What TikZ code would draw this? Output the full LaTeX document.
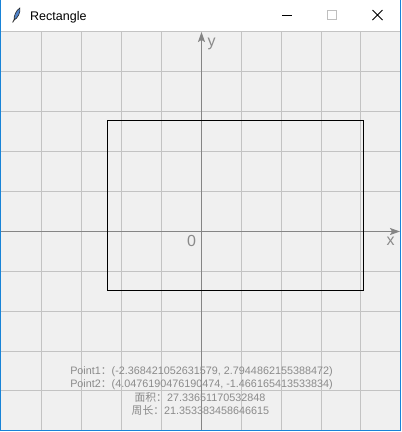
\documentclass[tikz,border=0pt]{standalone}
\usepackage{fontspec}
\setmainfont{Liberation Sans}
\newfontfamily\cjk{Noto Sans CJK SC}
\usetikzlibrary{arrows.meta}
\definecolor{bg}{HTML}{F0F0F0}
\definecolor{gridc}{HTML}{C3C3C3}
\definecolor{axisc}{HTML}{858585}
\definecolor{txtc}{HTML}{8A8A8A}
\definecolor{winblue}{HTML}{1883D7}
\definecolor{feather}{RGB}{80,130,200}
\begin{document}
\begin{tikzpicture}[x=1pt,y=-1pt,
  gridline/.style={draw=gridc, line width=1pt},
  axisline/.style={draw=axisc, line width=1pt, -{Stealth[length=10pt,width=7pt,inset=2pt]}},
  info/.style={text=txtc, font=\fontsize{10.8}{13}\selectfont, inner sep=0pt, anchor=base},
  axlabel/.style={text=txtc, font=\fontsize{16}{16}\selectfont, inner sep=0pt},
  winbtn/.style={line width=1pt, draw=black},
]
\useasboundingbox (0,0) rectangle (402,432);
\fill[white] (0,0) rectangle (402,432);
\fill[bg] (1,31) rectangle (400,430);
% grid
\begin{scope}
\clip (1,31) rectangle (400,430);
\foreach \gx in {41.5,81.5,121.5,161.5,241.5,281.5,321.5,360.5}
  \draw[gridline] (\gx,31) -- (\gx,430);
\foreach \gy in {31.5,71.5,111.5,151.5,191.5,271.5,311.5,351.5,390.5}
  \draw[gridline] (1,\gy) -- (400,\gy);
% axes
\coordinate (xs) at (1,231.5);
\coordinate (xe) at (400,231.5);
\coordinate (ys) at (201.5,430);
\coordinate (ye) at (201.5,32);
\draw[axisline] (xs) -- (xe);
\draw[axisline] (ys) -- (ye);
\end{scope}
% rectangle
\node[draw=black, line width=1pt, minimum width=256pt, minimum height=170pt,
      inner sep=0pt, anchor=north west] (rect) at (106.5,119.5) {};
% axis labels
\node[axlabel] (ylab) at (211.5,44) {y};
\node[axlabel] (xlab) at (390.5,241.5) {x};
\node[axlabel] (orig) at (191.5,240.5) {0};
% info text
\node[info] (p1) at (201.5,374) {Point1{\cjk ：}(-2.368421052631579, 2.7944862155388472)};
\node[info] (p2) at (201.5,387.5) {Point2{\cjk ：}(4.0476190476190474, -1.466165413533834)};
\node[info] (area) at (200,401) {{\cjk 面积：}27.33651170532848};
\node[info] (peri) at (200.5,414.5) {{\cjk 周长：}21.353383458646615};
% title bar
\node[anchor=base west, inner sep=0pt, font=\fontsize{12.5}{12.5}\selectfont] (title) at (30,20.7) {Rectangle};
\fill[feather, draw=black!85, line width=0.6pt]
  (19.8,8) .. controls (21,12) and (17.5,18.5) .. (14.2,20)
           .. controls (13.6,16) and (16,10.5) .. (19.8,8) -- cycle;
\draw[black!85, line width=0.8pt] (14.6,19) -- (12.6,22.5);
\coordinate (mina) at (282,15.5);
\coordinate (minb) at (292,15.5);
\draw[winbtn] (mina) -- (minb);
\coordinate (maxa) at (327.5,10.5);
\coordinate (maxb) at (336.5,19.5);
\draw[line width=1pt, draw=black!25] (maxa) rectangle (maxb);
\coordinate (cla) at (372.5,10);
\coordinate (clb) at (382.5,20);
\coordinate (clc) at (382.5,10);
\coordinate (cld) at (372.5,20);
\draw[winbtn] (cla) -- (clb) (clc) -- (cld);
% window border
\draw[winblue, line width=1pt] (0.5,0) -- (0.5,430.5) -- (400.5,430.5) -- (400.5,0);
\end{tikzpicture}
\end{document}
